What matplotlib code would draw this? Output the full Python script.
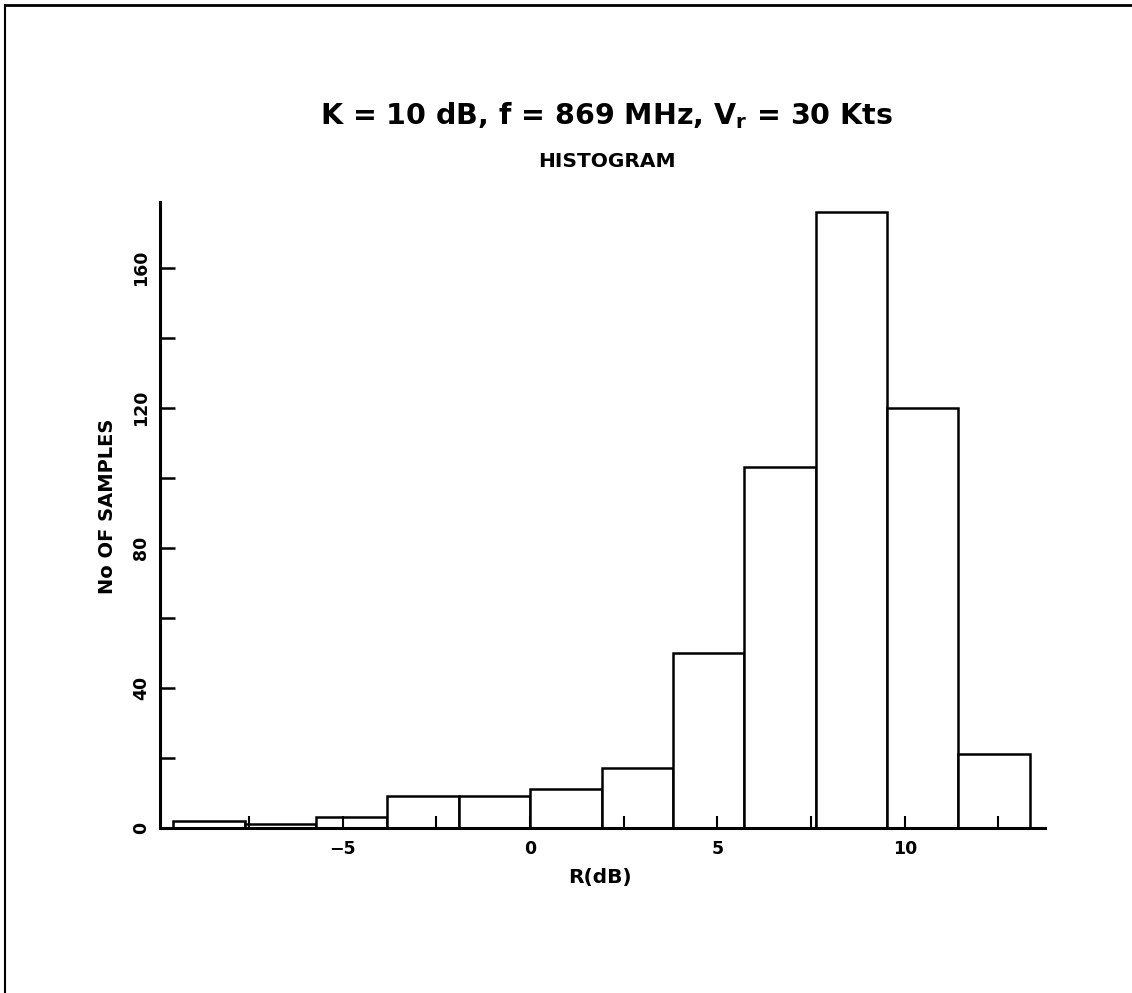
import numpy as np
import matplotlib
matplotlib.use('Agg')
import matplotlib.pyplot as plt
from matplotlib.lines import Line2D

plt.rcParams['font.family'] = ['DejaVu Sans']
plt.rcParams['font.weight'] = 'bold'
plt.rcParams['mathtext.fontset'] = 'custom'
plt.rcParams['mathtext.rm'] = 'DejaVu Sans:bold'
plt.rcParams['mathtext.bf'] = 'DejaVu Sans:bold'

# histogram
bin_width = 1.905
bin_edges = np.arange(-5, 8) * bin_width
counts = [2, 1, 3, 9, 9, 11, 17, 50, 103, 176, 120, 21]

x_major = [-5, 0, 5, 10]
x_minor = [-7.5, -2.5, 2.5, 7.5, 12.5]
y_major = [0, 40, 80, 120, 160]
y_minor = [20, 60, 100, 140]

fig = plt.figure(figsize=(11.32, 9.93), dpi=100)
ax = fig.add_axes([0.1413, 0.1662, 0.9231 - 0.1413, 0.7966 - 0.1662])

ax.bar(bin_edges[:-1], counts, width=bin_width, align='edge',
       facecolor='white', edgecolor='black', linewidth=1.8)

ax.set_xlim(-9.88, 13.74)
ax.set_ylim(0, 178.8)
ax.set_xticks(x_major)
ax.set_xticks(x_minor, minor=True)
ax.set_yticks(y_major)
ax.set_yticks(y_minor, minor=True)
ax.set_xticklabels(['\u22125', '0', '5', '10'])
ax.set_yticklabels([str(v) for v in y_major], rotation=90, va='center')

for side in ['top', 'right']:
    ax.spines[side].set_visible(False)
for side in ['left', 'bottom']:
    ax.spines[side].set_linewidth(2.2)

ax.tick_params(axis='x', which='both', direction='in', length=9, width=1.5,
               labelsize=12.5, pad=9)
ax.tick_params(axis='y', which='both', direction='in', length=11, width=1.8,
               labelsize=12.5, pad=7)

fig.text(0.536, 0.884, 'K = 10 dB, f = 869 MHz, V$_\\mathrm{r}$ = 30 Kts',
         ha='center', va='center', fontsize=20.5, fontweight='bold')
fig.text(0.536, 0.837, 'HISTOGRAM', ha='center', va='center',
         fontsize=14.5, fontweight='bold')
fig.text(0.530, 0.1168, 'R(dB)', ha='center', va='center',
         fontsize=14.5, fontweight='bold')
fig.text(0.0954, 0.4904, 'No OF SAMPLES', ha='center', va='center',
         rotation=90, fontsize=14, fontweight='bold')

# page frame: top and left edges
fig.add_artist(Line2D([0.004, 1.0], [0.995, 0.995], color='black', lw=2,
                      transform=fig.transFigure))
fig.add_artist(Line2D([0.004, 0.004], [0.0, 0.995], color='black', lw=1.5,
                      transform=fig.transFigure))

fig.savefig('out.png', dpi=100)
